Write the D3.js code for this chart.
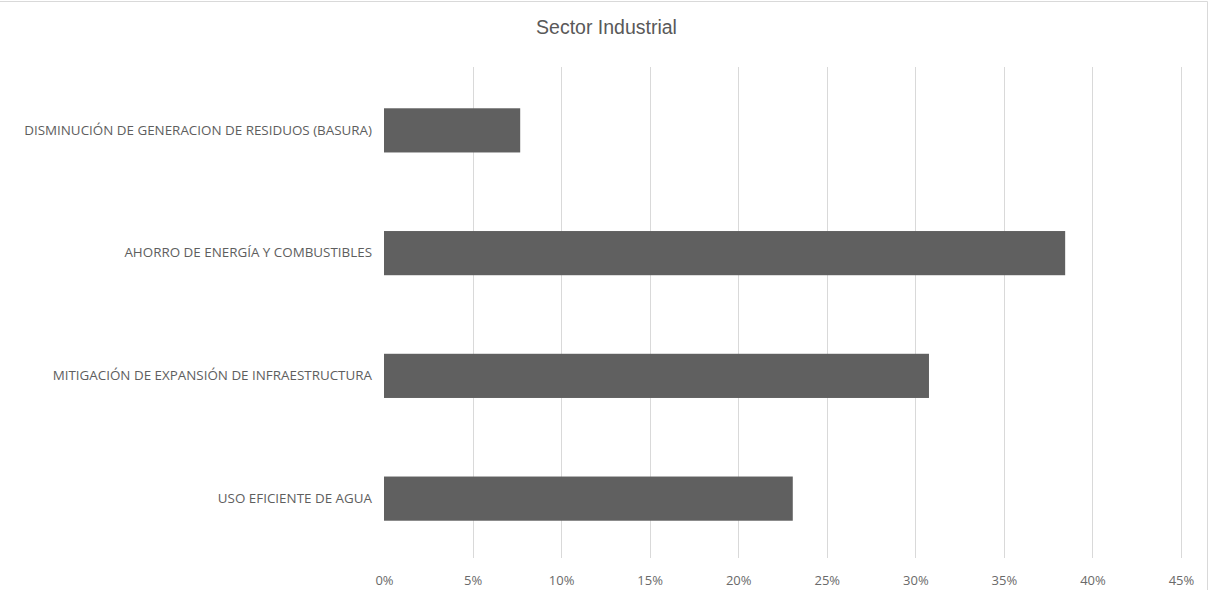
<!DOCTYPE html>
<html>
<head>
<meta charset="utf-8">
<script src="https://cdn.jsdelivr.net/npm/d3@7"></script>
<style>
  html, body { margin: 0; padding: 0; background: #fff; }
  svg { display: block; }
</style>
</head>
<body>
<svg id="chart" width="1209" height="590"></svg>
<script>
// Categories listed top to bottom
const categories = [
  "DISMINUCIÓN DE GENERACION DE RESIDUOS (BASURA)",
  "AHORRO DE ENERGÍA Y COMBUSTIBLES",
  "MITIGACIÓN DE EXPANSIÓN DE INFRAESTRUCTURA",
  "USO EFICIENTE DE AGUA"
];
const values = [0.0769, 0.3846, 0.3077, 0.2308];
const tickValues = [0, 0.05, 0.10, 0.15, 0.20, 0.25, 0.30, 0.35, 0.40, 0.45];
const title = "Sector Industrial";

const W = 1209, H = 590;
const margin = { top: 67, right: 28, bottom: 32, left: 384 };
const svg = d3.select("#chart");

// frame: top and right edges
svg.append("path")
  .attr("d", `M0,1.5H${W - 1.5}V${H}`)
  .attr("fill", "none").attr("stroke", "#d9d9d9").attr("stroke-width", 1);

const x = d3.scaleLinear().domain([0, 0.45]).range([margin.left, W - margin.right]);
const y = d3.scaleBand().domain(categories)
  .range([margin.top + 2, H - margin.bottom + 2])
  .paddingInner(0.64).paddingOuter(0.32);

// vertical gridlines
svg.append("g")
  .selectAll("line")
  .data(tickValues.filter(d => d > 0))
  .join("line")
  .attr("x1", d => Math.round(x(d)) + 0.5)
  .attr("x2", d => Math.round(x(d)) + 0.5)
  .attr("y1", margin.top)
  .attr("y2", H - margin.bottom)
  .attr("stroke", "#d9d9d9")
  .attr("stroke-width", 1);

// bars
svg.append("g")
  .selectAll("rect")
  .data(categories)
  .join("rect")
  .attr("x", x(0))
  .attr("y", d => y(d))
  .attr("width", (d, i) => x(values[i]) - x(0))
  .attr("height", y.bandwidth())
  .attr("fill", "#606060");

// x axis labels
const xAxis = d3.axisBottom(x)
  .tickValues(tickValues)
  .tickFormat(d3.format(".0%"))
  .tickSize(0)
  .tickPadding(0);
const gx = svg.append("g")
  .attr("transform", `translate(0,${H - margin.bottom + 18})`)
  .call(xAxis);
gx.select(".domain").remove();
gx.selectAll("text")
  .attr("fill", "#6a6a6a")
  .attr("font-family", "'Open Sans', sans-serif")
  .attr("font-size", "13px");

// category labels
const yAxis = d3.axisLeft(y).tickSize(0).tickPadding(12);
const gy = svg.append("g")
  .attr("transform", `translate(${margin.left},0)`)
  .call(yAxis);
gy.select(".domain").remove();
gy.selectAll("text")
  .attr("fill", "#5e5e5e")
  .attr("font-family", "'Open Sans', sans-serif")
  .attr("font-size", "13.4px");

// title
svg.append("text")
  .attr("x", 606.5).attr("y", 34)
  .attr("text-anchor", "middle")
  .attr("fill", "#595959")
  .attr("font-family", "'Liberation Sans', Arial, sans-serif")
  .attr("font-size", "19.5px")
  .text(title);
</script>
</body>
</html>
